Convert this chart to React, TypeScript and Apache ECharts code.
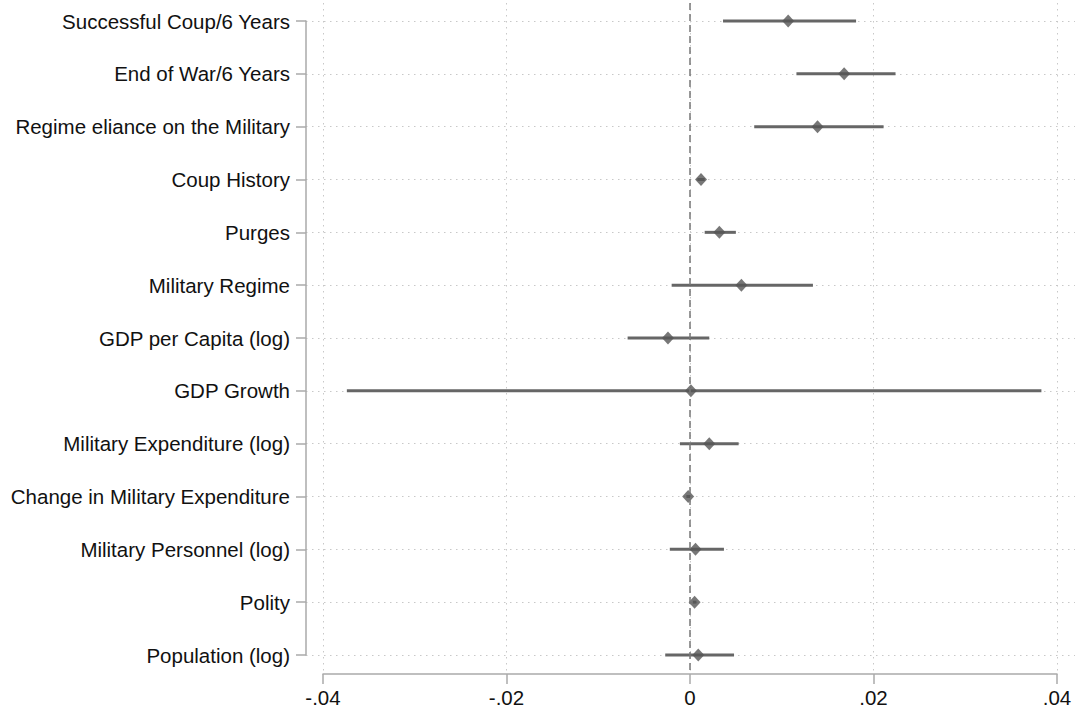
import React, { useEffect, useRef } from "react";
import * as echarts from "echarts";

const labels = [
  "Successful Coup/6 Years",
  "End of War/6 Years",
  "Regime eliance on the Military",
  "Coup History",
  "Purges",
  "Military Regime",
  "GDP per Capita (log)",
  "GDP Growth",
  "Military Expenditure (log)",
  "Change in Military Expenditure",
  "Military Personnel (log)",
  "Polity",
  "Population (log)",
];
const coef = [0.0107, 0.0168, 0.0139, 0.0012, 0.0032, 0.0056, -0.0024, 0.0001, 0.0021, -0.0002, 0.0006, 0.0005, 0.0009];
const lower = [0.0036, 0.0116, 0.007, 0.0008, 0.0016, -0.002, -0.0068, -0.0374, -0.0011, -0.0004, -0.0022, 0.0003, -0.0027];
const upper = [0.0181, 0.0224, 0.0211, 0.0016, 0.005, 0.0134, 0.0021, 0.0383, 0.0053, 0.0, 0.0037, 0.0007, 0.0048];
const xTicks = [-0.04, -0.02, 0, 0.02, 0.04];

const fmt = (v: number) => {
  if (Math.abs(v) < 1e-9) return "0";
  const s = Math.abs(v).toFixed(2).replace(/^0/, "");
  return (v < 0 ? "-" : "") + s;
};

export default function App() {
  const ref = useRef<HTMLDivElement>(null);
  useEffect(() => {
    if (!ref.current) return;
    const chart = echarts.init(ref.current, null, { renderer: "svg" });
    const rowTop = 21;
    const rowBottom = 655;
    const plotTop = 3;
    const axisY = 674;
    const n = labels.length;
    const pxPerRow = (rowBottom - rowTop) / (n - 1);
    const yMin = -(rowTop - plotTop) / pxPerRow;
    const yMax = n - 1 + (axisY - rowBottom) / pxPerRow;
    const font = "'Liberation Sans', Arial, Helvetica, sans-serif";
    const dotted = { color: "#c8c8c8", width: 1, type: [1.5, 4.5] as any };

    chart.setOption({
      animation: false,
      backgroundColor: "#ffffff",
      grid: [
        { left: 306, right: 0, top: rowTop, height: rowBottom - rowTop },
        { left: 323, width: 734, top: plotTop, height: axisY - plotTop },
      ],
      xAxis: [
        { gridIndex: 0, type: "value", show: false, min: -1, max: 1, splitLine: { show: false } },
        {
          gridIndex: 1,
          type: "value",
          position: "bottom",
          min: -0.04,
          max: 0.04,
          interval: 0.02,
          axisLine: { show: true, onZero: false, lineStyle: { color: "#aaaaaa", width: 1.5 } },
          axisTick: { show: true, length: 10, lineStyle: { color: "#aaaaaa", width: 1.5 } },
          axisLabel: {
            fontSize: 20.5,
            fontFamily: font,
            color: "#111111",
            margin: 13,
            formatter: (v: number) => fmt(v),
            customValues: xTicks,
          },
          splitLine: { show: true, lineStyle: dotted },
        },
      ],
      yAxis: [
        {
          gridIndex: 0,
          type: "category",
          position: "left",
          data: labels,
          inverse: true,
          boundaryGap: false,
          axisLine: { show: true, onZero: false, lineStyle: { color: "#aaaaaa", width: 1.5 } },
          axisTick: { show: true, length: 10, interval: 0, lineStyle: { color: "#aaaaaa", width: 1.5 } },
          axisLabel: { interval: 0, fontSize: 20.5, fontFamily: font, color: "#111111", margin: 16 },
          splitLine: { show: true, interval: 0, lineStyle: dotted },
        },
        {
          gridIndex: 1,
          type: "value",
          inverse: true,
          min: yMin,
          max: yMax,
          show: false,
          splitLine: { show: false },
        },
      ],
      series: [
        {
          type: "custom",
          xAxisIndex: 1,
          yAxisIndex: 1,
          encode: { x: [0, 1], y: 2 },
          data: labels.map((_, i) => [lower[i], upper[i], i]),
          renderItem: (params: any, api: any) => {
            const p1 = api.coord([api.value(0), api.value(2)]);
            const p2 = api.coord([api.value(1), api.value(2)]);
            return {
              type: "line",
              shape: { x1: p1[0], y1: p1[1], x2: p2[0], y2: p2[1] },
              style: { stroke: "#666666", lineWidth: 3 },
            };
          },
          z: 3,
        },
        {
          type: "scatter",
          xAxisIndex: 1,
          yAxisIndex: 1,
          symbol: "diamond",
          symbolSize: [12, 13],
          itemStyle: { color: "#555555" },
          data: labels.map((_, i) => [coef[i], i]),
          z: 4,
          markLine: {
            silent: true,
            symbol: "none",
            label: { show: false },
            lineStyle: { color: "#777777", width: 1.5, type: [7, 4] as any },
            data: [{ xAxis: 0 }],
          },
        },
      ],
    });
    return () => chart.dispose();
  }, []);
  return (
    <div
      ref={ref}
      style={{ position: "absolute", left: 0, top: 0, width: 1075, height: 711 }}
    />
  );
}
